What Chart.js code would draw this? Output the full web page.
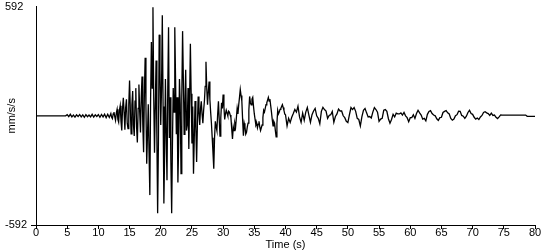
<!DOCTYPE html>
<html>
<head>
<meta charset="utf-8">
<script src="https://cdn.jsdelivr.net/npm/chart.js@4.4.0/dist/chart.umd.min.js"></script>
<style>
    html, body {margin: 0; padding: 0; background: #fff;}
    canvas {display: block;}
</style>
</head>
<body>
<canvas id="myChart" width="550" height="250"></canvas>
<script>
// seismogram, mm/s/s
// pre-event + P onset: 0..12 s every 0.25 s
const quietStart = 0, quietStep = 0.25;
const quietAccel = [
    0, 0, 0, 0,  0, 0, 0, 0,  0, 0, 0, 0,  0, 0, 0, 0,  0, 0, 0, 0,
    6, -5, 8, -6,  4, -7, 5, -4,  7, -6, 5, -8,  6, -5, 4, -6,
    8, -7, 5, -4,  6, -8, 7, -6,  9, -10, 8, -9
];
// strong shaking: 12..40 s every 0.125 s
const strongStart = 12, strongStep = 0.125;
const strongAccel = [
    12, -8, -15, 10, 20, -5, -25, 15,
    35, -20, -35, 30, 55, -30, -80, 40,
    98, 20, -75, 45, 90, -40, -70, 60,
    191, 30, -98, 60, 134, -50, -109, 80,
    150, -60, -145, 40, 170, 20, -90, 100,
    213, -50, -198, 120, 315, 50, -260, -100,
    63, -200, -430, 100, 400, 150, 588, 100,
    -200, 50, 300, -100, -528, -150, 440, 250,
    -50, 150, 545, 50, -475, -200, 200, -100,
    -350, 150, 480, -120, 100, -250, -528, -150,
    150, 20, 480, 200, -100, 100, -362, -150,
    200, 60, -314, 100, 459, 200, -100, 50,
    250, -80, -50, 150, -180, 80, 390, 120,
    -150, 50, -314, -120, 80, -60, -250, -50,
    105, 20, -50, 40, 78, 10, -40, 30,
    80, 160, 293, 150, 60, 130, 186, 90,
    20, -40, -119, -200, -287, -120, -30, -60,
    -80, 10, 79, -20, -110, -10, 70, 40,
    115, 50, -20, 10, 30, 15, 0, 25,
    20, 5, -10, -70, -126, -60, -80, -40,
    -60, -10, 40, 10, 60, 100, 143, 110,
    80, -20, -108, -40, -60, -100, -90, -60,
    -40, 30, 105, 70, 60, 90, 100, 50,
    10, -20, -50, -40, -65, -45, -30, -60,
    -80, -65, -50, -10, 30, 20, 40, 60,
    70, 85, 100, 80, 90, 55, 20, -20,
    -55, -30, -40, -80, -114, -40, 30, 10,
    20, 35, 40, 50, 60, 45, 30, 10
];
// coda: 40..80 s every 0.25 s
const codaStart = 40, codaStep = 0.25;
const codaAccel = [
    6, -55, -14, -36,  -8, 12, 34, 20,  52, -6, -35, 14,  -24, 20, 45, 4,
    -35, 6, 26, 40,  0, -14, -43, 24,  46, 34, 26, -14,  2, 6, 24, -35,
    -4, 10, 36, 26,  26, 0, -10, -30,  -37, 6, 45, 34,  45, 24, -14, -20,
    -55, -4, 30, 40,  16, -6, -4, -12,  20, 45, 34, 20,  -30, -18, -14, 30,
    34, 24, -16, -40,  -20, 8, -6, 14,  10, 10, 16, 4,  18, 0, -10, -32,
    -10, -10, 6, -14,  12, 30, 16, 4,  -18, -14, -27, 8,  24, 28, 12, 4,
    0, -16, -25, -10,  -8, 18, 24, 28,  16, 10, -14, -24,  -18, 0, 6, 25,
    24, 2, -2, -14,  -2, 18, 30, 12,  8, -8, -18, -12,  -20, -6, 2, 18,
    22, 16, 12, 2,  14, 2, 4, -8,  -15, -6, 5, 4,
    4, 4, 4, 4,  4, 4, 4, 4,  4, 4, 4, 4,  4, 4, 4, -3,
    -3, -3, -3, -3,  -3
];
const xTicks = [0, 5, 10, 15, 20, 25, 30, 35, 40, 45, 50, 55, 60, 65, 70, 75, 80];
const yTicks = [-592, 592];

function toPoints(start, step, vals) {
    return vals.map((v, i) => ({x: start + i * step, y: v}));
}

const points = toPoints(quietStart, quietStep, quietAccel)
    .concat(toPoints(strongStart, strongStep, strongAccel))
    .concat(toPoints(codaStart, codaStep, codaAccel));
const axisFont = {family: 'Liberation Sans, Arial, sans-serif', size: 11};

Chart.defaults.color = '#000';

const chartOptions = {
    responsive: false,
    animation: false,
    layout: {padding: {left: 5, top: 4, right: 15, bottom: 0}},
    plugins: {legend: {display: false}, tooltip: {enabled: false}},
    scales: {
        x: {
            type: 'linear', min: 0, max: 80,
            afterBuildTicks: s => { s.ticks = xTicks.map(v => ({value: v})); },
            afterFit: s => { s.height = 25; },
            ticks: {autoSkip: false, maxRotation: 0, padding: -2, font: {...axisFont, lineHeight: 1}},
            grid: {drawOnChartArea: false, tickLength: 4, color: '#000'},
            border: {color: '#000'},
            title: {display: true, text: 'Time (s)', font: {...axisFont, lineHeight: 1}, padding: 0}
        },
        y: {
            min: -592, max: 592,
            afterBuildTicks: s => { s.ticks = yTicks.map(v => ({value: v})); },
            afterFit: s => { s.width = 31; },
            ticks: {crossAlign: 'far', padding: 0, font: axisFont},
            grid: {drawOnChartArea: false, tickLength: 5, color: c => c.tick && c.tick.value === -592 ? '#000' : 'rgba(0,0,0,0)'},
            border: {color: '#000'},
            title: {display: true, text: 'mm/s/s', font: axisFont, padding: 0}
        }
    }
};

let myChart = new Chart(document.getElementById('myChart'), {
    type: 'line',
    data: {
        datasets: [{
            data: points,
            borderColor: '#000',
            borderWidth: 1.3,
            pointRadius: 0,
            tension: 0
        }]
    },
    options: chartOptions
});
</script>
</body>
</html>
